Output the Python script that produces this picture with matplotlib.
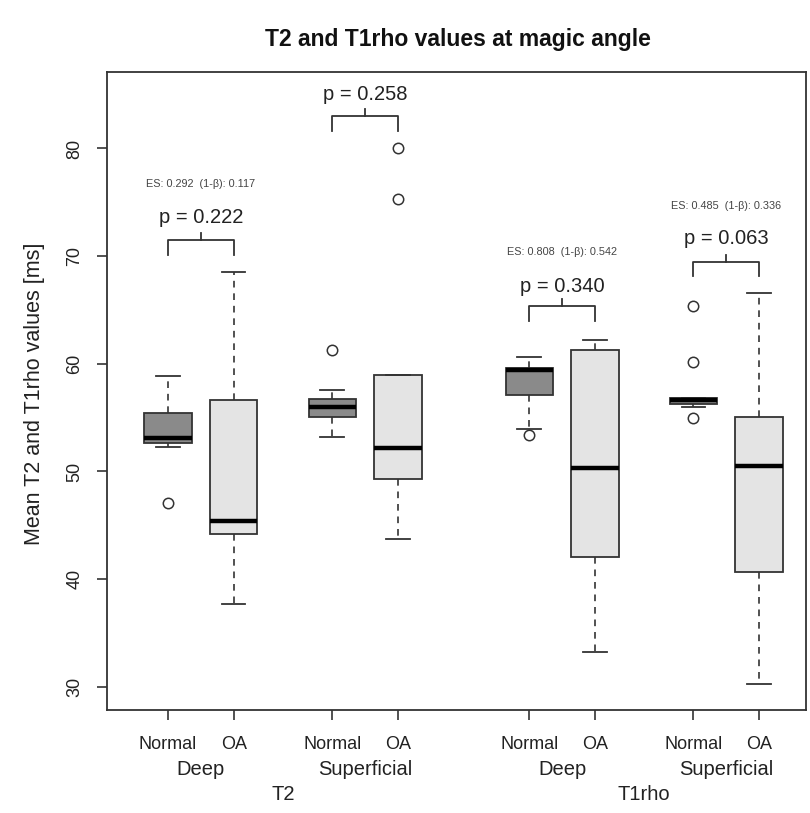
import matplotlib
matplotlib.use("Agg")
import matplotlib.pyplot as plt

plt.rcParams['font.family'] = ['Liberation Sans', 'DejaVu Sans']

# box positions (R style: pairs with a gap)
positions = [1, 2, 3.5, 4.5, 6.5, 7.5, 9, 10]
groups = ['Normal', 'OA', 'Normal', 'OA', 'Normal', 'OA', 'Normal', 'OA']
layers = ['Deep', 'Superficial', 'Deep', 'Superficial']
params = ['T2', 'T1rho']

# box statistics [ms]
whislo = [52.3, 37.7, 53.2, 43.7, 53.95, 33.2, 56.0, 30.3]
q1 = [52.65, 44.2, 55.1, 49.3, 57.15, 42.1, 56.25, 40.7]
med = [53.1, 45.4, 56.0, 52.15, 59.4, 50.3, 56.6, 50.5]
q3 = [55.4, 56.6, 56.7, 59.0, 59.6, 61.25, 56.8, 55.1]
whishi = [58.9, 68.55, 57.6, 59.0, 60.6, 62.2, 56.8, 66.6]
fliers = [[47.1], [], [61.25], [80.0, 75.3], [53.4], [], [65.35, 60.2, 55.0], []]

# comparisons: p-values, effect size and power
p_values = ['0.222', '0.258', '0.340', '0.063']
es_text = ['ES: 0.292  (1-β): 0.117', None, 'ES: 0.808  (1-β): 0.542', 'ES: 0.485  (1-β): 0.336']
bracket_y = [71.5, 83.0, 65.35, 69.5]
p_y = [73.05, 84.5, 66.7, 71.1]
es_y = [76.4, None, 70.1, 74.4]

fig = plt.figure(figsize=(8.1, 8.13), dpi=100)
ax = fig.add_axes([0.132, 0.1267, 0.8635, 0.7847])

stats = []
for i in range(len(positions)):
    stats.append(dict(med=med[i], q1=q1[i], q3=q3[i], whislo=whislo[i],
                      whishi=whishi[i], fliers=fliers[i]))

edge = '#333333'
bp = ax.bxp(stats, positions=positions, widths=0.72, patch_artist=True,
            boxprops=dict(edgecolor=edge, linewidth=1.3),
            medianprops=dict(color='black', linewidth=3.2, solid_capstyle='butt'),
            whiskerprops=dict(color=edge, linewidth=1.2, linestyle=(0, (4, 3.5))),
            capprops=dict(color=edge, linewidth=1.3),
            capwidths=0.36,
            flierprops=dict(marker='o', markerfacecolor='white', markeredgecolor=edge,
                            markersize=7.5, markeredgewidth=1.1))
for i, box in enumerate(bp['boxes']):
    box.set_facecolor('#8a8a8a' if groups[i] == 'Normal' else '#e4e4e4')

# brackets with p-values
for k in range(4):
    xa = positions[2 * k]
    xb = positions[2 * k + 1]
    xm = (xa + xb) / 2
    yb = bracket_y[k]
    ax.plot([xa, xa, xb, xb], [yb - 1.35, yb, yb, yb - 1.35], color=edge, lw=1.3)
    ax.plot([xm, xm], [yb, yb + 0.65], color=edge, lw=1.3)
    ax.text(xm, p_y[k], 'p = ' + p_values[k], ha='center', va='baseline',
            fontsize=14.5, color='#222222')
    if es_text[k]:
        ax.text(xm, es_y[k], es_text[k], ha='center', va='baseline',
                fontsize=7.8, color='#444444')

ax.set_xlim(0.07, 10.72)
ax.set_ylim(27.85, 87.1)
ax.set_yticks([30, 40, 50, 60, 70, 80])
ax.tick_params(axis='y', length=7, width=1.2, color=edge, pad=10,
               labelsize=13, labelrotation=90, labelcolor='#222222')
for lab in ax.get_yticklabels():
    lab.set_va('center')

ax.set_xticks(positions)
ax.set_xticklabels(groups)
ax.tick_params(axis='x', length=7, width=1.2, color=edge, pad=12,
               labelsize=13, labelcolor='#222222')

for sp in ax.spines.values():
    sp.set_color(edge)
    sp.set_linewidth(1.3)

# second and third label rows
for k in range(4):
    xm = (positions[2 * k] + positions[2 * k + 1]) / 2
    ax.annotate(layers[k], xy=(xm, 0), xycoords=('data', 'axes fraction'),
                xytext=(0, -43), textcoords='offset points', ha='center', va='center',
                fontsize=14.5, color='#222222')
for k in range(2):
    xm = (positions[4 * k] + positions[4 * k + 3]) / 2
    ax.annotate(params[k], xy=(xm, 0), xycoords=('data', 'axes fraction'),
                xytext=(0, -61), textcoords='offset points', ha='center', va='center',
                fontsize=14.5, color='#222222')

fig.text(0.043, 0.515, 'Mean T2 and T1rho values [ms]', rotation=90,
         ha='center', va='center', fontsize=15.5, color='#222222')
fig.text(0.565, 0.951, 'T2 and T1rho values at magic angle', ha='center',
         va='center', fontsize=16.5, fontweight='bold', color='#111111')

fig.savefig('out.png', dpi=100)
